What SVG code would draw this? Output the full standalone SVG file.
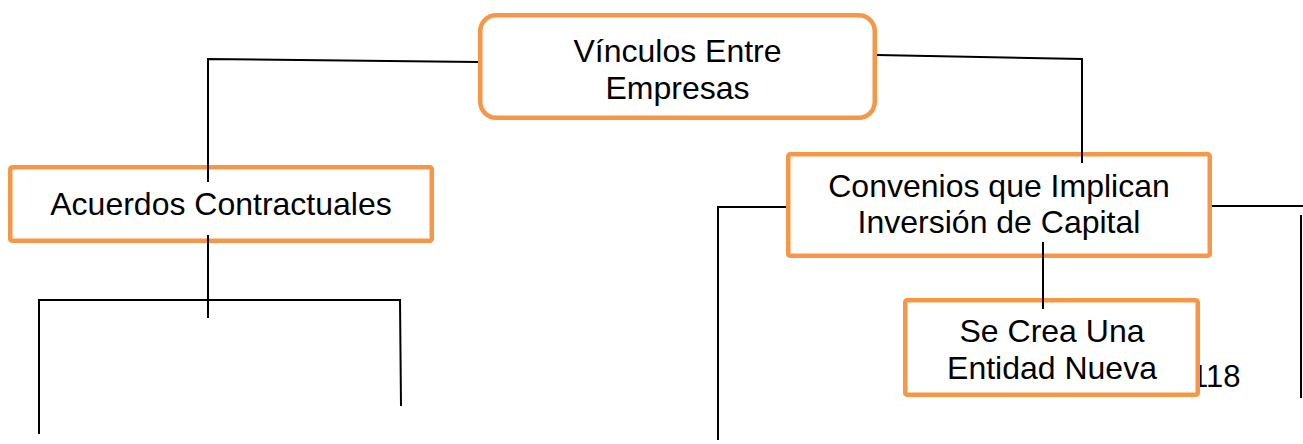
<svg xmlns="http://www.w3.org/2000/svg" width="1303" height="444" viewBox="0 0 1303 444">
  <style>
    .box { fill: #ffffff; stroke: #F79646; stroke-width: 4.5; }
    .label { font-family: "Liberation Sans", Arial, sans-serif; font-size: 32px; fill: #000000; text-anchor: middle; }
    .page { font-family: "Liberation Sans", Arial, sans-serif; font-size: 31px; fill: #000000; }
    .link { fill: none; stroke: #000000; stroke-width: 2; stroke-linecap: butt; stroke-linejoin: miter; }
  </style>
  <rect x="0" y="0" width="1303" height="444" fill="#ffffff"/>

  <!-- page number, partly hidden behind the lower box -->
  <text class="page" x="1191" y="387">118</text>

  <g id="node-vinculos">
    <rect class="box" x="480.25" y="15.25" width="394.5" height="102.5" rx="16" ry="16"/>
    <text class="label" x="677.5" y="62">Vínculos Entre</text>
    <text class="label" x="677.5" y="99">Empresas</text>
  </g>

  <g id="node-acuerdos">
    <rect class="box" x="10.25" y="167.25" width="421.5" height="73.5" rx="2" ry="2"/>
    <text class="label" x="221" y="215">Acuerdos Contractuales</text>
  </g>

  <g id="node-convenios">
    <rect class="box" x="788.25" y="154.25" width="421.5" height="101.5" rx="2" ry="2"/>
    <text class="label" x="999" y="197">Convenios que Implican</text>
    <text class="label" x="999" y="233">Inversión de Capital</text>
  </g>

  <g id="node-entidad">
    <rect class="box" x="905.25" y="300.25" width="292.5" height="94.5" rx="2" ry="2"/>
    <text class="label" x="1052" y="342">Se Crea Una</text>
    <text class="label" x="1052" y="379">Entidad Nueva</text>
  </g>

  <g id="connectors">
    <!-- root to left branch -->
    <polyline class="link" points="478,62 208,59 208,182"/>
    <!-- root to right branch -->
    <polyline class="link" points="877,55 1082,59 1082,163"/>
    <!-- left branch bracket -->
    <line class="link" x1="208" y1="235" x2="208" y2="318"/>
    <polyline class="link" points="39,434 39,300 400,300 401,406"/>
    <!-- right branch side arms -->
    <polyline class="link" points="786,207 718,207 718,440"/>
    <line class="link" x1="1212" y1="206" x2="1303" y2="206"/>
    <line class="link" x1="1301" y1="215" x2="1301" y2="398"/>
    <!-- right branch to new entity -->
    <line class="link" x1="1043" y1="242" x2="1043" y2="309"/>
  </g>
</svg>
